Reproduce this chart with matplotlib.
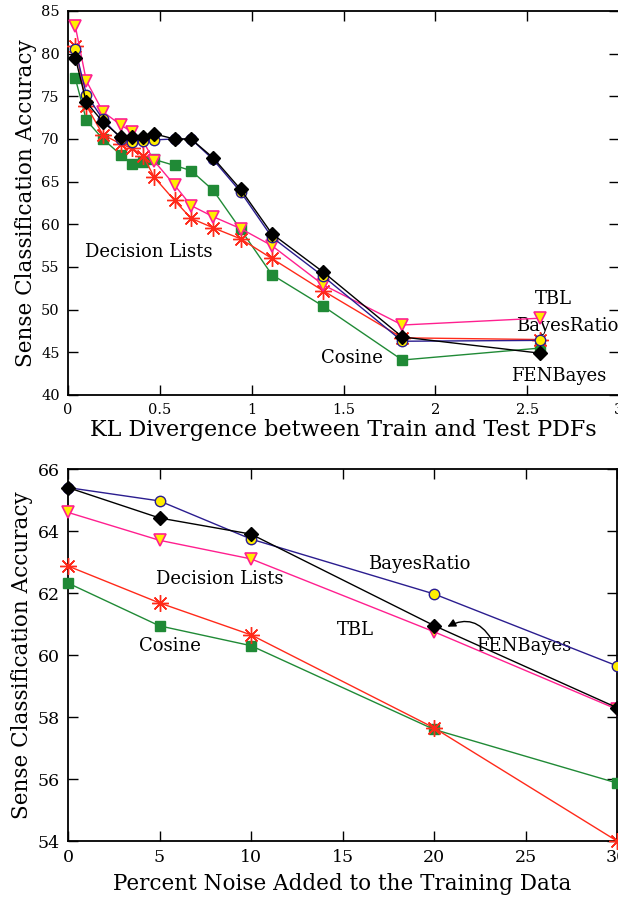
import matplotlib
matplotlib.use("Agg")
import matplotlib.pyplot as plt
import numpy as np

plt.rcParams['font.family'] = ['DejaVu Serif']
plt.rcParams['mathtext.fontset'] = 'dejavuserif'

# ---------------- Top panel data ----------------
kl_x = [0.04, 0.10, 0.19, 0.29, 0.35, 0.41, 0.47, 0.58, 0.67, 0.79, 0.94, 1.11, 1.39, 1.82, 2.57]
kl_fenbayes = [79.5, 74.3, 72.0, 70.2, 70.2, 70.2, 70.6, 70.0, 70.0, 67.8, 64.1, 58.9, 54.4, 46.8, 44.9]
kl_bayesratio = [80.5, 75.2, 72.3, 70.0, 69.7, 69.8, 69.9, 70.0, 70.0, 67.6, 63.8, 58.5, 53.9, 46.3, 46.4]
kl_tbl = [83.2, 76.8, 73.2, 71.6, 70.8, 69.7, 67.4, 64.6, 62.2, 60.9, 59.5, 57.5, 52.9, 48.2, 49.0]
kl_declists = [80.9, 73.9, 70.5, 69.4, 68.9, 68.0, 65.5, 62.8, 60.7, 59.6, 58.3, 56.0, 52.2, 46.7, 46.5]
kl_cosine = [77.1, 72.2, 70.0, 68.1, 67.1, 67.3, 67.6, 66.9, 66.3, 64.0, 59.4, 54.1, 50.4, 44.1, 45.5]

# ---------------- Bottom panel data ----------------
noise_x = [0, 5, 10, 20, 30]
nz_bayesratio = [65.4, 64.97, 63.74, 61.97, 59.65]
nz_fenbayes = [65.4, 64.42, 63.9, 60.95, 58.3]
nz_tbl = [64.6, 63.7, 63.1, 60.75, 58.25]
nz_declists = [62.87, 61.68, 60.65, 57.65, 54.0]
nz_cosine = [62.32, 60.94, 60.3, 57.6, 55.87]

top_xticks = [0, 0.5, 1, 1.5, 2, 2.5, 3]
top_xticklabels = ['0', '0.5', '1', '1.5', '2', '2.5', '3']
top_yticks = [40, 45, 50, 55, 60, 65, 70, 75, 80, 85]
bot_xticks = [0, 5, 10, 15, 20, 25, 30]
bot_yticks = [54, 56, 58, 60, 62, 64, 66]

C_FEN = 'black'
C_BR = '#2b1d8f'
C_TBL = '#ff1f8f'
C_DL = '#ff2a1a'
C_COS = '#208a36'
YEL = '#ffee00'

W, H = 618, 908
fig = plt.figure(figsize=(W / 100, H / 100), dpi=100)


def fig_rect(left, top, right, bottom):
    return [left / W, 1 - bottom / H, (right - left) / W, (bottom - top) / H]


def draw_series(ax, x, cos, dl, tbl, br, fen):
    kw = dict(lw=1.0, clip_on=False)
    ax.plot(x, cos, color=C_COS, marker='s', ms=7, mfc=C_COS, mec=C_COS, zorder=3, **kw)
    ax.plot(x, dl, color=C_DL, marker=(8, 2, 0), ms=12, mec=C_DL, mew=1.0, zorder=4, **kw)
    ax.plot(x, tbl, color=C_TBL, marker='v', ms=9, mfc=YEL, mec=C_TBL, mew=1.2, zorder=5, **kw)
    ax.plot(x, br, color=C_BR, marker='o', ms=7.5, mfc=YEL, mec=C_BR, mew=1.0, zorder=6, **kw)
    ax.plot(x, fen, color=C_FEN, marker='D', ms=7, mfc='black', mec='black', zorder=7, **kw)


def style_axes(ax, labelsize):
    ax.tick_params(direction='in', top=True, right=True, length=7, width=1,
                   labelsize=labelsize, pad=6)
    for s in ax.spines.values():
        s.set_linewidth(1.3)


# ---------------- Top axes ----------------
ax1 = fig.add_axes(fig_rect(68, 11, 619, 395))
draw_series(ax1, kl_x, kl_cosine, kl_declists, kl_tbl, kl_bayesratio, kl_fenbayes)
ax1.set_xlim(0, 3)
ax1.set_ylim(40, 85)
ax1.set_xticks(top_xticks)
ax1.set_xticklabels(top_xticklabels)
ax1.set_yticks(top_yticks)
style_axes(ax1, 10.5)
ax1.set_xlabel('KL Divergence between Train and Test PDFs', fontsize=16, labelpad=1)
ax1.set_ylabel('Sense Classification Accuracy', fontsize=15.5, labelpad=3)

tfs = 13
ax1.text(0.09, 56.7, 'Decision Lists', fontsize=tfs, va='center', ha='left')
ax1.text(2.54, 51.2, 'TBL', fontsize=tfs, va='center', ha='left')
ax1.text(2.44, 48.1, 'BayesRatio', fontsize=tfs, va='center', ha='left', clip_on=False)
ax1.text(1.38, 44.3, 'Cosine', fontsize=tfs, va='center', ha='left')
ax1.text(2.41, 42.2, 'FENBayes', fontsize=tfs, va='center', ha='left')

# ---------------- Bottom axes ----------------
ax2 = fig.add_axes(fig_rect(68, 469, 617, 841))
draw_series(ax2, noise_x, nz_cosine, nz_declists, nz_tbl, nz_bayesratio, nz_fenbayes)
ax2.set_xlim(0, 30)
ax2.set_ylim(54, 66)
ax2.set_xticks(bot_xticks)
ax2.set_yticks(bot_yticks)
style_axes(ax2, 12.5)
ax2.set_xlabel('Percent Noise Added to the Training Data', fontsize=15.5, labelpad=5)
ax2.set_ylabel('Sense Classification Accuracy', fontsize=15.5, labelpad=3)

ax2.text(16.4, 62.95, 'BayesRatio', fontsize=tfs, va='center', ha='left')
ax2.text(4.8, 62.45, 'Decision Lists', fontsize=tfs, va='center', ha='left')
ax2.text(14.7, 60.8, 'TBL', fontsize=tfs, va='center', ha='left')
ax2.text(3.9, 60.3, 'Cosine', fontsize=tfs, va='center', ha='left')
ax2.text(22.3, 60.3, 'FENBayes', fontsize=tfs, va='center', ha='left')
ax2.annotate('', xy=(20.6, 60.87), xytext=(23.2, 60.45),
             arrowprops=dict(arrowstyle='-|>', color='black', lw=1.0,
                             connectionstyle='arc3,rad=0.5', mutation_scale=12))

fig.savefig('out.png', dpi=100)
